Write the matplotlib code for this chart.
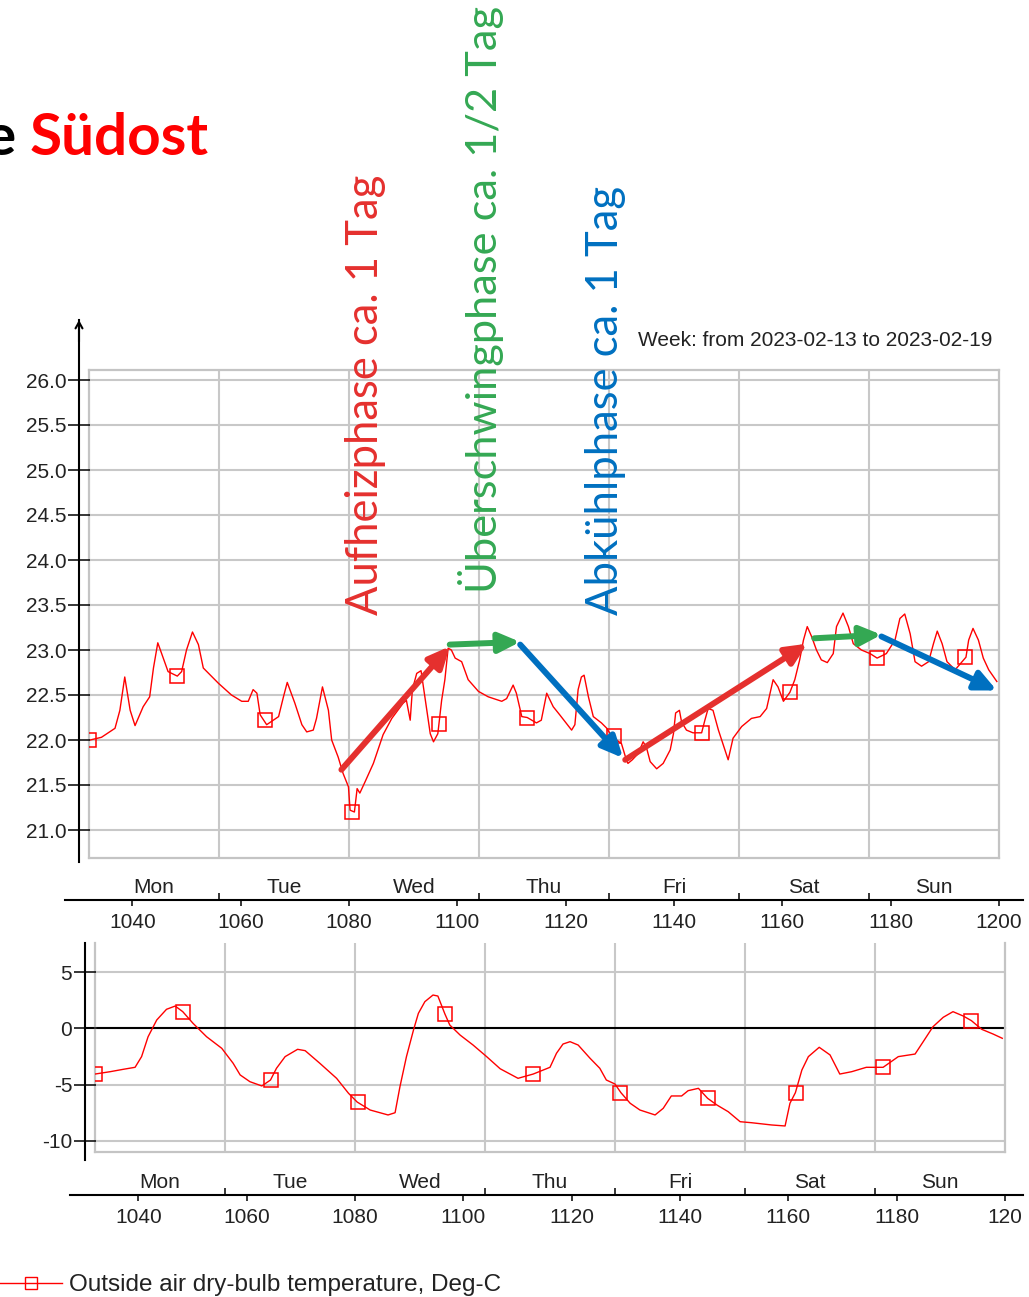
import matplotlib
matplotlib.use('Agg')
import matplotlib.pyplot as plt
import numpy as np
from matplotlib.lines import Line2D

plt.rcParams['axes.unicode_minus'] = False

# --- data (hour of year, value) ---
top_h = [1032.2, 1034.3, 1036.8, 1037.7, 1038.6, 1039.6, 1040.5, 1042.0, 1043.2, 1043.9, 1044.7, 1046.6, 1048.3, 1049.1, 1050.0, 1051.1, 1052.2, 1053.1, 1055.9,
         1058.3, 1060.2, 1061.4, 1062.3, 1063.0, 1063.6, 1064.8, 1067.0, 1067.9, 1068.6, 1070.0, 1071.3, 1072.2, 1073.4, 1074.0, 1075.1, 1076.2, 1076.8, 1078.0, 1078.9, 1079.9,
         1080.2, 1081.0, 1081.5, 1082.0, 1083.0, 1084.5, 1086.3, 1087.9, 1090.0, 1090.6, 1091.3, 1091.7, 1092.5, 1093.3, 1094.0, 1095.0, 1095.6, 1096.4, 1097.1, 1097.7, 1098.3, 1098.9, 1099.6, 1100.8, 1102.0, 1103.9,
         1105.7, 1108.2, 1109.1, 1110.3, 1110.9, 1111.9, 1112.9, 1114.6, 1115.5, 1116.5, 1117.7, 1118.9, 1121.1, 1121.7, 1122.3, 1122.9, 1123.4, 1124.2, 1125.1, 1126.6, 1127.6,
         1128.5, 1130.3, 1131.2, 1131.5, 1132.3, 1133.4, 1134.3, 1134.9, 1135.6, 1136.8, 1138.0, 1139.3, 1139.9, 1140.3, 1141.0, 1141.4, 1142.3, 1143.5, 1145.1, 1145.7, 1146.3, 1147.2, 1148.2, 1149.4, 1150.0, 1150.9,
         1152.5, 1154.3, 1155.9, 1157.1, 1158.3, 1159.2, 1160.2, 1161.4, 1162.3, 1163.2, 1163.9, 1164.6, 1165.4, 1166.3, 1167.2, 1168.3, 1169.4, 1170.0, 1171.2, 1172.2, 1173.1, 1174.6,
         1176.2, 1177.5, 1179.2, 1180.8, 1181.7, 1182.6, 1183.6, 1184.5, 1185.7, 1187.0, 1187.9, 1188.6, 1189.5, 1190.4, 1191.9, 1193.9, 1194.4, 1195.2, 1196.2, 1197.1, 1198.1, 1199.6]
top_t = [22.00, 22.03, 22.13, 22.33, 22.70, 22.33, 22.16, 22.37, 22.48, 22.80, 23.08, 22.76, 22.71, 22.76, 23.00, 23.20, 23.06, 22.80, 22.63,
         22.50, 22.43, 22.43, 22.56, 22.52, 22.28, 22.17, 22.26, 22.48, 22.64, 22.41, 22.17, 22.09, 22.11, 22.24, 22.59, 22.33, 22.00, 21.81, 21.63, 21.48,
         21.22, 21.20, 21.46, 21.41, 21.54, 21.74, 22.06, 22.24, 22.41, 22.44, 22.22, 22.56, 22.74, 22.77, 22.48, 22.07, 21.98, 22.07, 22.44, 22.67, 23.02, 23.00, 22.91, 22.87, 22.67, 22.54,
         22.48, 22.43, 22.46, 22.61, 22.52, 22.26, 22.25, 22.19, 22.22, 22.52, 22.37, 22.28, 22.11, 22.17, 22.56, 22.70, 22.72, 22.48, 22.26, 22.19, 22.13,
         22.04, 21.96, 21.78, 21.74, 21.78, 21.85, 21.98, 21.92, 21.76, 21.68, 21.74, 21.89, 22.07, 22.30, 22.33, 22.20, 22.11, 22.08, 22.08, 22.22, 22.35, 22.33, 22.11, 21.89, 21.78, 22.02,
         22.15, 22.24, 22.26, 22.35, 22.67, 22.59, 22.43, 22.53, 22.67, 22.89, 23.11, 23.26, 23.15, 23.00, 22.89, 22.86, 22.96, 23.26, 23.41, 23.26, 23.07, 23.00,
         22.96, 22.91, 22.96, 23.11, 23.35, 23.40, 23.18, 22.87, 22.82, 22.87, 23.07, 23.21, 23.07, 22.87, 22.78, 22.92, 23.11, 23.24, 23.11, 22.91, 22.78, 22.65]

bot_h = [1032.0, 1034.8, 1037.2, 1039.4, 1040.6, 1041.8, 1043.4, 1045.2, 1046.8, 1048.2, 1050.1, 1052.6, 1055.4,
         1057.5, 1058.8, 1060.6, 1062.8, 1064.4, 1065.5, 1067.1, 1069.4, 1070.8, 1073.5, 1076.6, 1078.8,
         1080.4, 1082.8, 1086.1, 1087.4, 1088.3, 1089.5, 1090.8, 1091.7, 1092.9, 1094.4, 1095.3, 1096.6, 1097.5, 1099.4, 1101.8,
         1104.3, 1106.8, 1110.1, 1112.9, 1116.0, 1117.2, 1118.4, 1119.7, 1121.2, 1123.4, 1125.2, 1126.4,
         1128.0, 1129.1, 1130.8, 1132.6, 1135.4, 1136.9, 1138.4, 1140.3, 1141.5, 1143.4, 1145.1, 1146.8, 1148.9, 1151.1,
         1153.2, 1156.9, 1159.4, 1160.3, 1161.3, 1162.5, 1163.7, 1165.7, 1167.7, 1169.5, 1171.7, 1174.4,
         1177.5, 1180.3, 1183.4, 1184.9, 1186.7, 1188.6, 1190.4, 1192.3, 1193.8, 1195.7, 1197.8, 1199.5]
bot_t = [-4.07, -3.86, -3.65, -3.47, -2.52, -0.75, 0.74, 1.69, 1.98, 1.48, 0.44, -0.75, -1.78,
         -3.11, -4.15, -4.75, -5.13, -4.60, -3.56, -2.52, -1.87, -1.99, -3.11, -4.45, -5.78,
         -6.56, -7.27, -7.71, -7.51, -5.19, -2.52, -0.15, 1.33, 2.37, 2.96, 2.87, 1.27, 0.29, -0.60, -1.49,
         -2.52, -3.60, -4.45, -4.07, -3.47, -2.22, -1.40, -1.19, -1.49, -2.67, -3.56, -4.60,
         -4.96, -5.73, -6.67, -7.27, -7.71, -7.12, -6.02, -6.02, -5.55, -5.34, -6.23, -6.82, -7.42, -8.31,
         -8.40, -8.60, -8.69, -6.67, -5.73, -3.71, -2.52, -1.69, -2.37, -4.07, -3.86, -3.47,
         -3.47, -2.52, -2.29, -1.19, 0.14, 0.98, 1.48, 1.09, 0.68, -0.09, -0.51, -0.89]

mark_h = [1032.0, 1048.2, 1064.4, 1080.5, 1096.6, 1112.9, 1129.0, 1145.1, 1161.4, 1177.5, 1193.8]
mark_top = [22.00, 22.71, 22.22, 21.20, 22.18, 22.25, 22.04, 22.08, 22.53, 22.91, 22.92]
mark_bot = [-4.07, 1.48, -4.60, -6.56, 1.27, -4.07, -5.73, -6.23, -5.73, -3.47, 0.68]

days = ['Mon', 'Tue', 'Wed', 'Thu', 'Fri', 'Sat', 'Sun']
day_edges = np.arange(1032, 1201, 24)
hour_ticks = np.arange(1040, 1201, 20)
top_yticks = np.arange(21.0, 26.01, 0.5)
bot_yticks = [-10, -5, 0, 5]

# phase arrows drawn over the upper chart
arrow_from = [(1078.6, 21.67), (1098.6, 23.06), (1111.6, 23.06), (1131.0, 21.78), (1165.9, 23.13), (1178.3, 23.15)]
arrow_to = [(1098.6, 23.04), (1111.6, 23.09), (1130.6, 21.80), (1164.6, 23.07), (1178.3, 23.17), (1199.6, 22.55)]

RED = '#E5302E'
GREEN = '#34A853'
BLUE = '#0070C0'
arrow_col = [RED, GREEN, BLUE, RED, GREEN, BLUE]

LINE = '#ff0000'
GRID = '#c8c8c8'
TXT = '#222222'
SANS = 'Liberation Sans'

W, H = 1029, 1297
fig = plt.figure(figsize=(W / 100, H / 100), dpi=100)


def px_axes(x0, y0, x1, y1):
    return fig.add_axes([x0 / W, 1 - y1 / H, (x1 - x0) / W, (y1 - y0) / H])


def hour_at(x, left):
    return 1032 + (x - left) * 168 / 910


def v_top(y):
    return 21 + (830 - y) / 90


def v_bot(y):
    return (1028.3 - y) / 11.24


def frame_axes(ax, ylim, yt):
    ax.set_xlim(1032, 1200)
    ax.set_ylim(*ylim)
    ax.set_xticks(day_edges[1:-1])
    ax.set_yticks(yt)
    ax.tick_params(length=0, labelleft=False, labelbottom=False)
    ax.grid(True, color=GRID, lw=1.5)
    ax.set_axisbelow(True)
    for sp in ax.spines.values():
        sp.set_color('#c4c4c4')
        sp.set_linewidth(1.6)


def y_spine_axes(box, ylim, yt, labels):
    ay = px_axes(*box)
    ay.patch.set_visible(False)
    for k in ['top', 'right', 'bottom']:
        ay.spines[k].set_visible(False)
    ay.spines['left'].set_linewidth(1.5)
    ay.set_ylim(*ylim)
    ay.set_xticks([])
    ay.set_yticks(yt)
    ay.set_yticklabels(labels, family=SANS, fontsize=15, color=TXT)
    ay.tick_params(axis='y', direction='inout', length=16.5, width=1.1, pad=1)
    return ay


def hour_axis(box, left, last_label):
    axb = px_axes(*box)
    axb.patch.set_visible(False)
    for k in ['top', 'right', 'left']:
        axb.spines[k].set_visible(False)
    axb.spines['bottom'].set_linewidth(1.5)
    axb.set_xlim(hour_at(box[0], left), hour_at(box[2], left))
    axb.set_yticks([])
    axb.set_xticks(hour_ticks)
    labs = [str(h) for h in hour_ticks]
    labs[-1] = last_label
    axb.set_xticklabels(labs, family=SANS, fontsize=15, color=TXT)
    axb.set_xticks(day_edges[1:], minor=True)
    axb.tick_params(axis='x', which='major', direction='out', length=4.5, width=1.1, pad=5)
    axb.tick_params(axis='x', which='minor', direction='in', length=5, width=1.1)
    for i, d in enumerate(days):
        axb.text(day_edges[i] + 12, 0.62, d, transform=axb.get_xaxis_transform(),
                 ha='center', va='center', family=SANS, fontsize=15, color=TXT)
    return axb


# ---------------- upper chart ----------------
ax1 = px_axes(89, 370, 999, 858)
frame_axes(ax1, (v_top(858), v_top(370)), top_yticks)
ax1.plot(top_h, top_t, color=LINE, lw=1.0, zorder=3)
ax1.plot(mark_h, mark_top, ls='none', marker='s', ms=10, mfc='none', mec=LINE, mew=1.1, zorder=3)

for (xa, ya), (xb, yb), c in zip(arrow_from, arrow_to, arrow_col):
    ax1.annotate('', xy=(xb, yb), xytext=(xa, ya),
                 arrowprops=dict(arrowstyle='-|>,head_length=0.9,head_width=0.42', lw=4.3,
                                 color=c, mutation_scale=14, shrinkA=0, shrinkB=0),
                 annotation_clip=False, zorder=5)

ay1 = y_spine_axes((79, 320, 80, 862), (v_top(862), v_top(320)), top_yticks,
                   ['%.1f' % v for v in top_yticks])
ay1.annotate('', xy=(0, 1.0), xytext=(0, 0.96), xycoords='axes fraction',
             arrowprops=dict(arrowstyle='->,head_length=0.45,head_width=0.25', lw=1.5,
                             color='black', shrinkA=0, shrinkB=0))

hour_axis((65, 880, 1023, 900), 89, '1200')

fig.text(638 / W, 1 - 340 / H, 'Week: from 2023-02-13 to 2023-02-19', ha='left', va='center',
         family=SANS, fontsize=15, color=TXT)

# ---------------- lower chart ----------------
ax2 = px_axes(95, 943, 1005, 1152)
frame_axes(ax2, (v_bot(1152), v_bot(943)), bot_yticks)
ax2.spines['top'].set_visible(False)
ax2.axhline(0, xmin=-10 / 910, xmax=1.0, color='black', lw=1.5, clip_on=False, zorder=2)
ax2.plot(bot_h, bot_t, color=LINE, lw=1.0, zorder=3)
ax2.plot(mark_h, mark_bot, ls='none', marker='s', ms=10, mfc='none', mec=LINE, mew=1.1, zorder=3)

y_spine_axes((85, 943, 86, 1160), (v_bot(1160), v_bot(943)), bot_yticks,
             [str(v) for v in bot_yticks])

hour_axis((70, 1175, 1023, 1195), 95, '120')

# legend
handle = Line2D([], [], color=LINE, lw=1.0, marker='s', ms=9, mfc='none', mec=LINE, mew=1.0)
fig.legend([handle], ['Outside air dry-bulb temperature, Deg-C'], loc='center left',
           bbox_to_anchor=(0, 1 - 1285 / H), frameon=False, prop={'family': SANS, 'size': 17.5},
           handlelength=2.55, handletextpad=0.29, borderpad=0, borderaxespad=0, numpoints=1,
           labelcolor=TXT)

# ---------------- slide annotations ----------------
fig.text(15 / W, 1 - 155 / H, 'e', ha='right', va='baseline', family='Lato', weight='bold',
         fontsize=42, color='black')
fig.text(30 / W, 1 - 155 / H, 'Südost', ha='left', va='baseline', family='Lato', weight='bold',
         fontsize=42, color='#ff0000')

fig.text(378 / W, 1 - 615 / H, 'Aufheizphase ca. 1 Tag', rotation=90, rotation_mode='anchor',
         ha='left', va='baseline', family='Lato', fontsize=31.4, color=RED)
fig.text(497 / W, 1 - 593 / H, 'Überschwingphase ca. 1/2 Tag', rotation=90, rotation_mode='anchor',
         ha='left', va='baseline', family='Lato', fontsize=31.2, color=GREEN)
fig.text(618 / W, 1 - 615 / H, 'Abkühlphase ca. 1 Tag', rotation=90, rotation_mode='anchor',
         ha='left', va='baseline', family='Lato', fontsize=31.4, color=BLUE)

fig.savefig('out.png', dpi=100, facecolor='white')
